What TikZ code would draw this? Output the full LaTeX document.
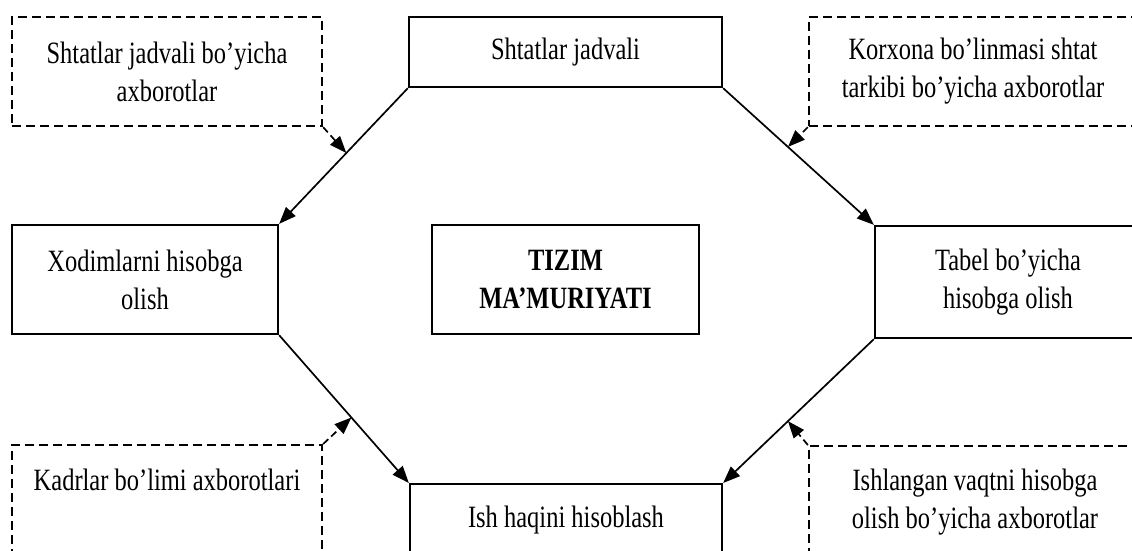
\documentclass[tikz,border=0pt]{standalone}
\usepackage{fontspec}
\setmainfont{Liberation Serif}[FakeStretch=0.79]
\usetikzlibrary{arrows.meta}
\begin{document}
\begin{tikzpicture}[x=1pt,y=-1pt,
  every node/.style={font=\fontsize{31}{38}\selectfont, align=center, inner sep=0pt},
  sbox/.style={draw, line width=2.3pt, rectangle},
  dbox/.style={draw, line width=2.3pt, dash pattern=on 9pt off 5pt, rectangle},
  conn/.style={line width=1.7pt, -{Triangle[length=17pt,width=13pt]}},
  dconn/.style={conn, dash pattern=on 7pt off 4pt}]
\useasboundingbox (0,0) rectangle (1132,551);
\begin{scope}
\clip (0,0) rectangle (1132,551);
% top row
\node[dbox, minimum width=310pt, minimum height=109pt] (dtl) at (167,71.5) {Shtatlar jadvali bo’yicha\\axborotlar};
\node[sbox, minimum width=313pt, minimum height=70pt] (top) at (565.5,52) {Shtatlar jadvali};
\node[dbox, minimum width=328pt, minimum height=109pt] (dtr) at (973,71.5) {Korxona bo’linmasi shtat\\tarkibi bo’yicha axborotlar};
% middle row
\node[sbox, minimum width=266pt, minimum height=109pt] (xod) at (145,279.5) {Xodimlarni hisobga\\olish};
\node[sbox, minimum width=267pt, minimum height=109pt] (cen) at (565.5,279.5) {\bfseries TIZIM\\\bfseries MA’MURIYATI};
\node[sbox, minimum width=266pt, minimum height=112pt] (tab) at (1008,282) {Tabel bo’yicha\\hisobga olish};
% bottom row (boxes run past the lower edge)
\node[dbox, minimum width=310pt, minimum height=200pt, anchor=north] (kadr) at (167,444) {};
\node[anchor=base] (kadrt) at (167,490) {Kadrlar bo’limi axborotlari};
\node[sbox, minimum width=312pt, minimum height=200pt, anchor=north] (ish) at (566,483) {};
\node[anchor=base] (isht) at (566,527) {Ish haqini hisoblash};
\node[dbox, minimum width=332pt, minimum height=200pt, anchor=north] (ishl) at (975,445) {};
\node (ishlt) at (975,502) {Ishlangan vaqtni hisobga\\olish bo’yicha axborotlar};
% main connectors
\draw[conn] (top.south west) -- (xod.north east) coordinate[pos=0.478] (p1);
\draw[conn] (top.south east) -- (tab.north west) coordinate[pos=0.43] (p2);
\draw[conn] (xod.south east) -- (ish.north west) coordinate[pos=0.557] (p3);
\draw[conn] (tab.south west) -- (ish.north east) coordinate[pos=0.57] (p4);
% dashed information arrows
\draw[dconn] (dtl.south east) -- (p1);
\draw[dconn] (dtr.south west) -- (p2);
\draw[dconn] (kadr.north east) -- (p3);
\draw[dconn] (ishl.north west) -- (p4);
\end{scope}
\end{tikzpicture}
\end{document}
